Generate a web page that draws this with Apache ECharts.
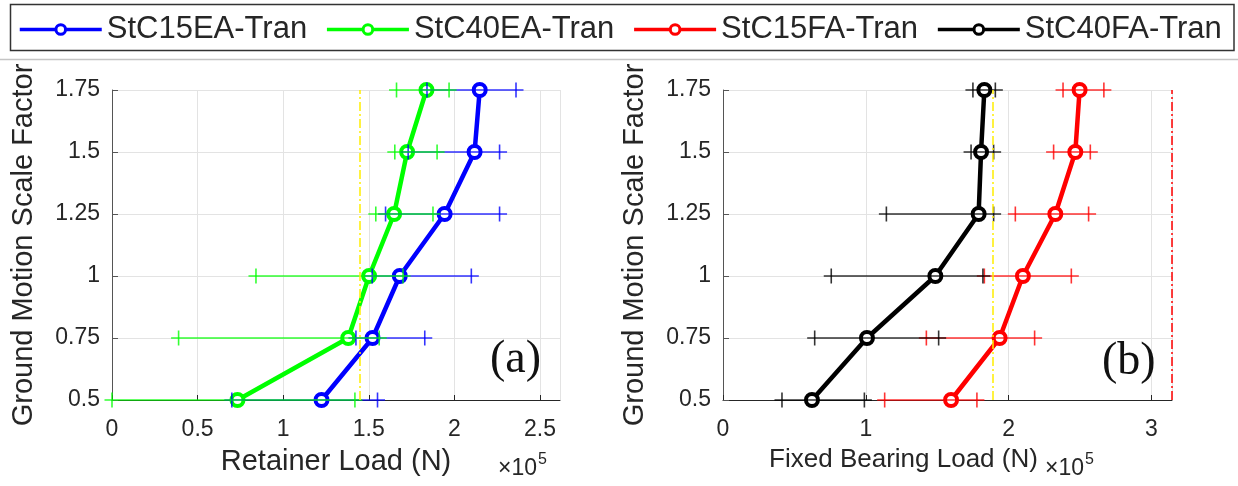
<!DOCTYPE html>
<html>
<head>
<meta charset="utf-8">
<script src="https://cdn.jsdelivr.net/npm/echarts@6/dist/echarts.min.js"></script>
<style>
html,body{margin:0;padding:0;background:#fff;}
#chart{width:1238px;height:486px;}
</style>
</head>
<body>
<div id="chart"></div>
<script>
// ---- data (loads in units of 1e5 N) ----
const scaleFactors = [0.5, 0.75, 1, 1.25, 1.5, 1.75];

const stc15eaMean = [1.224, 1.522, 1.681, 1.943, 2.118, 2.148];
const stc15eaLow  = [0.700, 1.425, 1.520, 1.598, 1.730, 1.840];
const stc15eaHigh = [1.551, 1.827, 2.099, 2.264, 2.264, 2.360];

const stc40eaMean = [0.733, 1.380, 1.502, 1.648, 1.724, 1.837];
const stc40eaLow  = [0.000, 0.389, 0.841, 1.541, 1.652, 1.662];
const stc40eaHigh = [1.419, 1.561, 1.700, 1.875, 1.899, 1.969];

const stc15faMean = [1.597, 1.937, 2.100, 2.327, 2.467, 2.497];
const stc15faLow  = [1.132, 1.424, 1.830, 2.047, 2.315, 2.381];
const stc15faHigh = [1.778, 2.182, 2.439, 2.560, 2.572, 2.667];

const stc40faMean = [0.623, 1.008, 1.487, 1.790, 1.807, 1.830];
const stc40faLow  = [0.413, 0.642, 0.758, 1.144, 1.737, 1.750];
const stc40faHigh = [0.990, 1.510, 1.820, 1.895, 1.895, 1.907];

const retainerThresholds = [1.452, 2.617];   // yellow, red
const bearingThresholds  = [1.888, 3.144];   // yellow, red

const seriesNames = ['StC15EA-Tran', 'StC40EA-Tran', 'StC15FA-Tran', 'StC40FA-Tran'];

// ---- chart ----
const FONT = '"Liberation Sans", Arial, Helvetica, sans-serif';
const TXT = '#262626';
const chart = echarts.init(document.getElementById('chart'), null, {renderer: 'canvas'});

function meanData(m) { return m.map((v, i) => [v, scaleFactors[i]]); }
function errData(lo, hi) { return lo.map((v, i) => [v, hi[i], scaleFactors[i]]); }

function lineSeries(name, color, mean, gi, marks) {
  const s = {
    name: name, type: 'line', xAxisIndex: gi, yAxisIndex: gi,
    data: meanData(mean), clip: false, z: 3,
    symbol: 'circle', symbolSize: 12,
    itemStyle: {color: '#ffffff', borderColor: color, borderWidth: 4},
    lineStyle: {color: color, width: 4.5},
    emphasis: {disabled: true}, animation: false
  };
  if (marks) {
    s.markLine = {
      silent: true, symbol: 'none', animation: false,
      label: {show: false},
      data: [
        {xAxis: marks[0], lineStyle: {color: '#ffee00', width: 1.5, type: [9, 3, 2, 3]}},
        {xAxis: marks[1], lineStyle: {color: '#ff0000', width: 1.5, type: [9, 3, 2, 3]}}
      ]
    };
  }
  return s;
}

function errSeries(color, lo, hi, gi) {
  return {
    type: 'custom', xAxisIndex: gi, yAxisIndex: gi, z: 4, clip: false,
    data: errData(lo, hi), encode: {x: [0, 1], y: 2}, silent: true, animation: false,
    renderItem: function (params, api) {
      const y = api.value(2);
      const p1 = api.coord([api.value(0), y]);
      const p2 = api.coord([api.value(1), y]);
      const s = 7.5;
      const st = {stroke: color, lineWidth: 1.6, opacity: 0.8};
      return {
        type: 'group',
        children: [
          {type: 'line', shape: {x1: p1[0] - s, y1: p1[1], x2: p2[0] + s, y2: p2[1]}, style: st},
          {type: 'line', shape: {x1: p1[0], y1: p1[1] - s, x2: p1[0], y2: p1[1] + s}, style: st},
          {type: 'line', shape: {x1: p2[0], y1: p2[1] - s, x2: p2[0], y2: p2[1] + s}, style: st}
        ]
      };
    }
  };
}

function xAxisCfg(gi, max, interval, name, fs, pad) {
  return {
    gridIndex: gi, type: 'value', min: 0, max: max, interval: interval,
    name: name, nameLocation: 'middle', nameGap: 47,
    nameTextStyle: {fontFamily: FONT, fontSize: fs, color: TXT, padding: pad},
    axisLine: {show: true, onZero: false, lineStyle: {color: '#262626', width: 1}},
    axisTick: {show: true, inside: true, length: 5, lineStyle: {color: '#262626'}},
    axisLabel: {fontFamily: FONT, fontSize: 23, color: TXT, margin: 18, showMaxLabel: false},
    splitLine: {show: true, lineStyle: {color: '#e3e3e3', width: 1}}
  };
}
function yAxisCfg(gi) {
  return {
    gridIndex: gi, type: 'value', min: 0.5, max: 1.75, interval: 0.25,
    name: 'Ground Motion Scale Factor', nameLocation: 'middle', nameGap: 74, nameRotate: 90,
    nameTextStyle: {fontFamily: FONT, fontSize: 29, color: TXT},
    axisLine: {show: true, lineStyle: {color: '#555555', width: 1}},
    axisTick: {show: true, inside: true, length: 6, lineStyle: {color: '#555555'}},
    axisLabel: {fontFamily: FONT, fontSize: 23, color: TXT, margin: 12},
    splitLine: {show: true, lineStyle: {color: '#e3e3e3', width: 1}}
  };
}

function txt(x, y, text, size) {
  return {type: 'text', x: x, y: y, z: 100,
    style: {text: text, fontSize: size, fontFamily: 'Liberation Sans, Arial, sans-serif', fill: TXT, verticalAlign: 'middle', align: 'left'}};
}

const option = {
  backgroundColor: '#fff',
  animation: false,
  legend: {
    data: seriesNames,
    left: 18, top: 14, itemWidth: 82, itemHeight: 12, itemGap: 18,
    padding: 0,
    itemStyle: {borderWidth: 3},
    lineStyle: {width: 3.5},
    textStyle: {fontFamily: FONT, fontSize: 31, color: TXT, lineHeight: 30},
    selectedMode: false
  },
  grid: [
    {left: 112, top: 90, width: 448, height: 310},
    {left: 723, top: 90, width: 449, height: 310}
  ],
  xAxis: [
    xAxisCfg(0, retainerThresholds[1], 0.5, 'Retainer Load (N)', 29, [0, 0, 0, 0]),
    xAxisCfg(1, bearingThresholds[1], 1, 'Fixed Bearing Load (N)', 26, [0, 88, 0, 0])
  ],
  yAxis: [yAxisCfg(0), yAxisCfg(1)],
  graphic: [
    {type: 'rect', shape: {x: 10.5, y: 4.5, width: 1223.5, height: 46}, style: {fill: 'none', stroke: '#333', lineWidth: 1.5}, z: 100},
    {type: 'line', shape: {x1: 0, y1: 59.5, x2: 1238, y2: 59.5}, style: {stroke: '#c4c4c4', lineWidth: 1.5}},
    {type: 'text', x: 490, y: 360, z: 100, style: {text: '(a)', fontSize: 46, fontFamily: 'Liberation Serif, Times New Roman, serif', fill: '#111', verticalAlign: 'middle'}},
    {type: 'text', x: 1102, y: 362, z: 100, style: {text: '(b)', fontSize: 46, fontFamily: 'Liberation Serif, Times New Roman, serif', fill: '#111', verticalAlign: 'middle'}},
    txt(498, 469, '\u00d710', 23),
    txt(538, 460, '5', 16),
    txt(1045, 469, '\u00d710', 23),
    txt(1085, 460, '5', 16)
  ],
  series: [
    lineSeries(seriesNames[0], '#0000ff', stc15eaMean, 0, retainerThresholds),
    lineSeries(seriesNames[1], '#00ff00', stc40eaMean, 0, null),
    lineSeries(seriesNames[2], '#ff0000', stc15faMean, 1, bearingThresholds),
    lineSeries(seriesNames[3], '#000000', stc40faMean, 1, null),
    errSeries('#0000ff', stc15eaLow, stc15eaHigh, 0),
    errSeries('#00ff00', stc40eaLow, stc40eaHigh, 0),
    errSeries('#ff0000', stc15faLow, stc15faHigh, 1),
    errSeries('#000000', stc40faLow, stc40faHigh, 1)
  ]
};
chart.setOption(option);
</script>
</body>
</html>
